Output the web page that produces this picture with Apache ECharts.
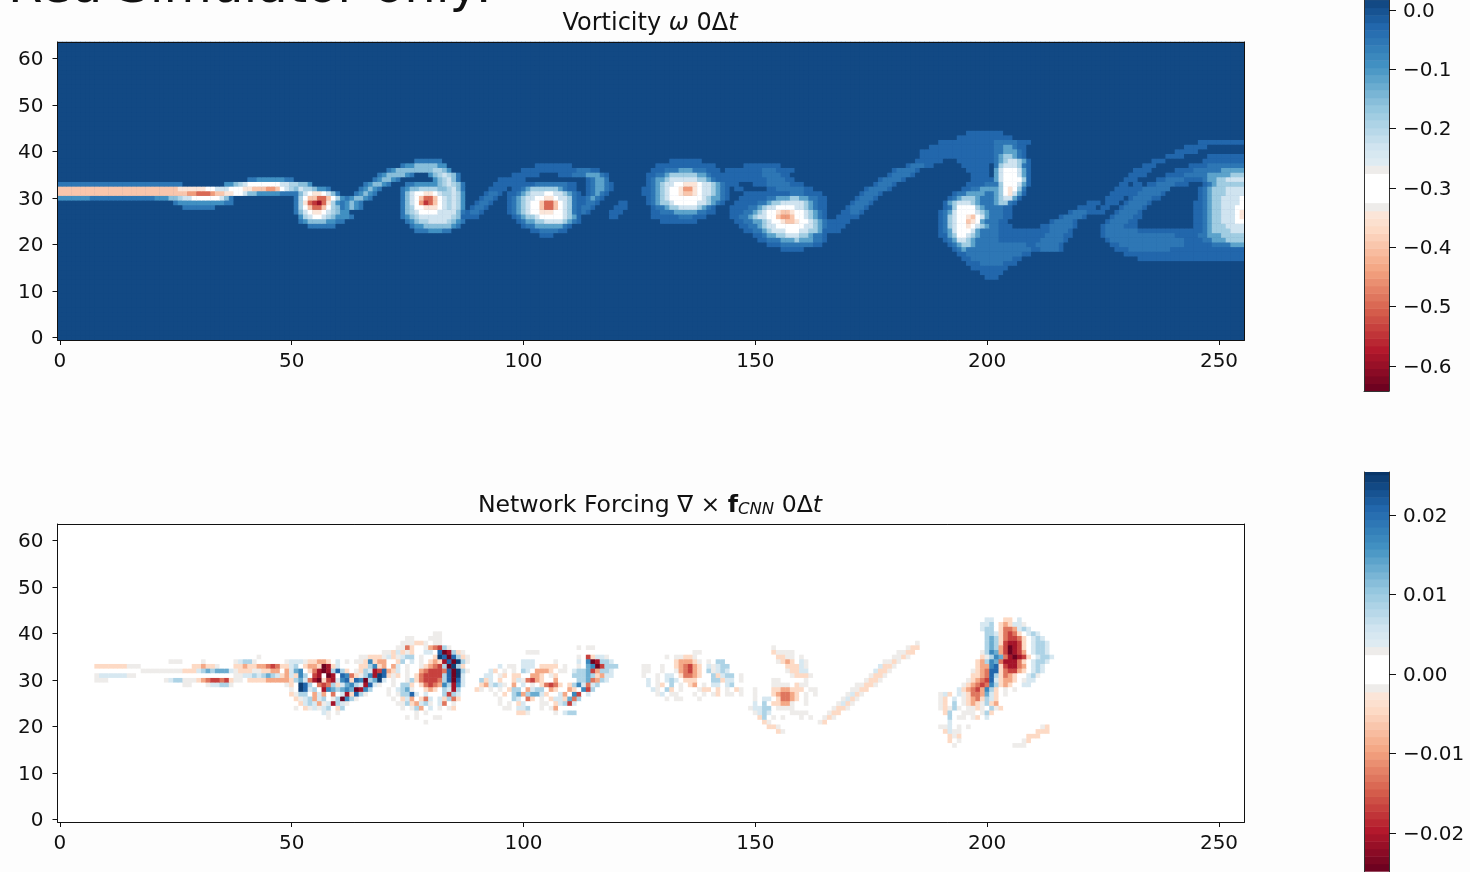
<!DOCTYPE html>
<html><head><meta charset="utf-8">
<style>html,body{margin:0;padding:0;background:#fdfdfd;overflow:hidden}#c{width:1470px;height:872px;filter:blur(0.5px)}</style>
<script src="https://cdn.jsdelivr.net/npm/echarts@6/dist/echarts.min.js"></script>
</head><body><div id="c"></div>
<script>
const columns = Array.from({length:256},(_,i)=>String(i));
const rowsIdx = Array.from({length:64},(_,i)=>String(i));
const omegaTicks = [0,-0.1,-0.2,-0.3,-0.4,-0.5,-0.6];
const forcingTicks = [0.02,0.01,0,-0.01,-0.02];
const omegaBackground = 0.006;
const omegaLevels = {'1':-0.05,'2':-0.095,'3':-0.15,'4':-0.19,'5':-0.235,'6':-0.3,'7':-0.35,'8':-0.4,'9':-0.45,'a':-0.5,'b':-0.55,'c':-0.6};
const omegaFaintLevels = {'1':-0.028,'2':-0.055,'3':-0.11,'4':-0.18,'5':-0.235,'6':-0.3,'7':-0.35,'8':-0.4,'9':-0.45,'a':-0.5,'b':-0.55,'c':-0.6};
const forcingLevels = {g:-0.0018,p:0.005,q:0.009,r:0.013,s:0.017,t:0.021,u:0.025,h:-0.005,i:-0.009,j:-0.013,k:-0.017,l:-0.021,m:-0.025};

// each row: [y, first x, cell levels]; '.' leaves the cell as it is
const omegaJet = [
[34,41,"1122222211"],
[33,0,"111111111111111111111111111"],[33,36,"2234566666665544332"],
[32,0,"88888888888888888888888888"],[32,26,"777777665556"],[32,38,"66778889986543"],
[31,0,"888888888888888888888888888"],[31,27,"899aaa9"],[31,34,"8877665"],[31,41,"33222221111"],
[30,0,"2222222"],[30,7,"11111111111111"],[30,21,"2223"],[30,25,"34"],[30,27,"556666665"],[30,36,"31"],
[29,25,"1222222222211"],[28,27,"1111111"]];
const omegaVortexA = [
[32,52,"5443221"],[31,51,"1356776531"],[30,51,"14688aa86421"],[29,51,"147abca7421"],[28,51,"1468aa864322"],
[27,51,"135677654322"],[26,52,"245665432221"],[25,52,"1233332211"],[24,54,"111111"]];
const omegaFilamentA = [
[28,61,"12321"],[29,61,"12321"],[30,62,"123321"],[31,64,"12321"],[32,65,"12321"],[33,66,"123321"],[34,68,"123321"],
[35,69,"12333321"],[36,71,"12333333334432"],[37,74,"1223333322"],[38,77,"111111"],[35,80,"2345431"],[34,81,"234531"]];
const omegaVortexB = [
[33,75,"1122222345431"],[32,74,"12334444334531"],[31,74,"13566776544542"],[30,74,"13568aa8654542"],
[29,74,"13569ba8654542"],[28,74,"13466777654542"],[27,74,"13456666555531"],[26,74,"12345555555431"],
[25,75,"1234455554321"],[24,76,"12233333321"],[23,77,"11122211"]];
const omegaArcC = [
[26,87,"1111"],[27,88,"1221"],[28,89,"1221"],[29,90,"1221"],[30,91,"1221"],[31,92,"1221"],[32,93,"1111"],[33,94,"11111"],
[34,95,"111111"],[35,98,"111111"],[35,108,"11122233321"],[36,100,"11111111111122211"],[37,103,"11111111"],
[34,114,"12332"],[33,114,"123321"],[32,114,"123321"],[31,114,"12321"],[30,113,"12321"],[29,113,"1221"],[28,112,"1221"],[27,111,"1221"],[26,110,"111"],
[29,121,"11"],[28,120,"111"],[27,119,"111"],[26,119,"11"]];
const omegaVortexC = [
[33,99,"1111222222211"],[32,98,"11234444443211"],[31,97,"1123455566554321"],[30,97,"1234556677655421"],
[29,97,"12345668aa865421"],[28,97,"12345668aa865421"],[27,97,"1234566777665421"],[26,98,"123445666665431"],
[25,99,"12334455554321"],[24,100,"12233333321"],[23,102,"11222211"],[22,104,"111"]];
const omegaVortexD = [
[38,132,"1111111"],[37,129,"1111111111111"],[36,128,"111222333222111"],[35,127,"11223444444332111"],
[34,127,"12334555555443211"],[33,127,"123455667776554321"],[32,126,"1123456679976554321"],[31,126,"1123456678876554321"],
[30,127,"123456666666543321"],[29,127,"12344566666554321"],[28,128,"12234455554321"],[27,128,"11222333332211"],
[26,128,"111111222111"],[25,130,"11111111"]];
const omegaBridge = [
[37,148,"11111111"],[36,144,"111111112221111"],[35,143,"111111111222211"],[34,143,"111111"],[34,149,"1111222211"],
[33,145,"11"],[33,150,"11122222111"],[32,146,"11"],[32,153,"1122222211"],[31,148,"111"],[31,150,"111111112221111"]];
const omegaVortexE = [
[30,147,"1111112233344332211"],[29,146,"11111223445555543211"],[28,145,"111122345566665543211"],[27,145,"111223456678876654321"],
[26,145,"112234556689986654321"],[25,146,"112233456678876654321"],[24,147,"11223455666666554321"],[23,148,"1122345556665544321"],
[22,150,"1123344555443221"],[21,151,"112223334333221"],[20,153,"111222222211"],[19,156,"11111"]];
const omegaRise = [
[23,165,"1111"],[24,166,"1111"],[25,167,"1111"],[26,168,"11111"],[27,169,"11221"],[28,170,"12221"],[29,171,"12221"],[30,172,"12221"],
[31,173,"12221"],[32,174,"122221"],[33,176,"12221"],[34,177,"122221"],[35,179,"122221"],[36,180,"122221"],[37,183,"122211"],[38,185,"111111"],[39,186,"1111111"],[40,186,"1111"]];
const omegaPair = [
[44,196,"11111111"],[43,194,"111111111111"],[42,190,"11111111111122222111"],[41,188,"111111111111112233211"],
[40,186,"11111111111111112233321"],[39,189,"11111111111112344321"],
[38,194,"11111111"],[38,202,"23455431"],[37,195,"111111"],[37,202,"24555421"],[36,196,"11111"],[36,202,"35666531"],
[35,197,"1111"],[35,202,"35666531"],[34,197,"11111"],[34,202,"35666641"],[33,196,"111122"],[33,202,"24666531"],
[32,195,"1122333"],[32,202,"3467642"],[31,193,"122333322"],[31,202,"3467531"],[30,192,"1234443222"],[30,202,"345531"],
[29,191,"13455543222"],[29,202,"34421"],[28,191,"124666643222211"],[27,190,"1235666654322211"],[26,190,"1245667865322211"],
[25,190,"124566876322211"],[24,190,"1245667654322111"],[23,190,"1235666532222111"],[22,190,"11346654322221111"],
[21,191,"12355432222211111"],[20,192,"123443222222222221"],[19,193,"123222222222222221"],[18,194,"1122222222222211"],
[17,195,"1122222222211"],[16,196,"11122222111"],[15,197,"11111111"],[14,199,"11111"],[13,200,"111"]];
const omegaTail = [
[19,211,"122221"],[20,210,"1222221"],[21,208,"1111222221"],[22,207,"111111222211"],[23,206,"1111"],[23,210,"111122221"],[24,212,"11222221"],
[25,214,"122221"],[26,216,"122221"],[27,218,"122211"],[28,220,"1111"],[29,222,"111"],
[27,224,"11"],[28,225,"11"],[29,226,"111"],[30,227,"111"],[31,229,"111"],[32,230,"111"],[33,232,"11"]];
const omegaRight = [
[42,246,"1111111111"],[41,243,"11111"],[40,241,"11111"],[39,239,"1111"],[39,248,"11111111"],
[38,236,"111"],[38,247,"111111111"],[37,234,"111"],[37,244,"111122222222"],[36,232,"1111"],[36,241,"111122222233333"],
[35,231,"1111"],[35,239,"11112222233333444"],[34,230,"111"],[34,237,"1122221111233445555"],
[33,229,"11"],[33,235,"112222111"],[33,247,"123444444"],[32,228,"11"],[32,233,"1222222"],[32,246,"1234445555"],
[31,227,"111"],[31,232,"1222221"],[31,246,"1234445555"],[30,226,"11"],[30,231,"1222211"],[30,246,"1234455556"],
[29,230,"122221"],[29,245,"11234455556"],[28,229,"122221"],[28,245,"11234455566"],[27,228,"122221"],[27,245,"11234455567"],
[26,227,"1222211"],[26,245,"11234455567"],[25,226,"1222211"],[25,245,"11234455566"],[24,225,"12222111"],[24,245,"11234445555"],
[23,225,"122222221111111111111"],[23,246,"1234444555"],[22,225,"1222222222222222111"],[22,244,"112233344444"],
[21,226,"12222222222222222111"],[21,246,"1223334444"],[20,227,"1122222222222222111"],[20,246,"1112222333"],
[19,228,"11122222222211111"],[19,245,"11111111111"],[18,230,"11111111111111111111111111"],[17,233,"11111111111111111111111"]];

const forcingJet = [
[35,43,"g"],[34,24,"ggg"],[34,31,"g"],[34,38,"gpqqg"],
[33,8,"hhhhhhhggg"],[33,29,"hhihhg"],[33,38,"hhihhiijkj"],[33,48,"hh"],
[32,18,"ggggggggghhh"],[32,30,"pqrqrrrp"],[32,38,"ghhhgghhii"],
[31,8,"gppppppgg"],[31,38,"ggppqpqrqph"],
[30,8,"ggg"],[30,23,"gpqqggg"],[30,30,"hijkkjkh"],[30,38,"gg"],[30,41,"hhhhiiiih"],
[29,27,"gg"],[29,32,"gppqqg"]];
const forcingCoil = [
[36,70,"ggh"],[35,65,"gghhhgph"],[34,49,"gpppghhiih.p.g"],[34,64,"gghshii"],
[33,50,"pq.hiihmlhp"],[33,65,"hhqshi"],[32,49,"iprs.hjlmlqtqh.g"],[32,65,"hqplkti"],
[31,49,"iphsq.kl.ml.tsjhg"],[31,66,"qsluth"],[30,49,"ihqrpjlmhklpsthts"],[30,66,"mqrup"],
[29,49,"gh.utq.jkjqhprsqpltpg"],[28,50,"g.utpq.lsrqrsrmlsq."],[27,50,"hgqq.ipi.j.plhtqg"],[26,51,"hgpqipq.gqmsqg"],
[25,52,"hpqpigplqpg"],[24,51,"g.hgpgpq.hq"],[23,57,"pg.g"],[22,58,"g"]];
const forcingWake = [
[40,81,"gg"],[39,75,"gg"],[39,80,"ggg"],[38,74,"ggghhg.gg"],[37,73,"ggjh..gijkqg"],[36,73,"phgh..pp.tmlqhg"],
[35,73,"gpqq.g..hutmtqhg"],[34,73,"hq.p.g.hihltmuqg"],[33,72,"ip.g..ghijkqmuqh"],[32,72,"hp.g..ijkkkjtmuqg"],
[31,72,"gh.g.hjkkkkqtmup"],[30,72,"g..gqhjkkkjqtmtp"],[29,72,"g.qqh.hjkjisqlsp"],[28,71,"g.pqrg..hih.qplq"],
[27,71,"g.gqqtp.p...qkqp"],[26,72,"g.hpi.hjp.phqjh"],[25,73,"ggqhipqg.pj.g"],[24,74,"g.gqi.p.g.gh"],[23,77,"g.g"],[22,75,"g.g...gg"],[21,79,"g"]];
const forcingVortexC = [
[37,112,"g.gg"],[36,101,"ggg"],[35,112,"g.khppg"],[34,100,"ppp"],[34,107,"g"],[34,112,"p.smlqqp"],
[33,95,"p.gg.ppp.hhhh.g"],[33,112,"g.rsmkqqq"],[32,93,"ph.g.g.qp.iiih.gg"],[32,111,"pqqrkiqqp"],
[31,92,"pp.gh.hh..iih.gh"],[31,111,"qqqrqhipp"],[30,91,"qhp.h..hpgjkih..i"],[30,112,"qqrjiqp"],
[29,91,"hipqpg.i.p.g.hjkjh"],[29,110,"hqspjpq"],[28,90,"hg.g.g.hqq.ipqq.ih"],[28,110,"ih.skq"],
[27,94,"g.h.qriqrrph"],[27,108,"pi.sk.p"],[26,95,"g.."],[26,98,"qp.jh.g.hpphrjq"],[25,95,"g.g.hp...gg.hpqkp"],
[24,96,"gg.ppq..g.gi"],[23,99,"hhg"],[23,107,"g.pqq"]];
const forcingVortexD = [
[36,137,"gg"],[35,131,"g.gghhg"],[34,133,"hiiihg.g.qq"],[33,126,"gg..g..hijkih.pgpqq"],[32,126,"gg..g..gijkih.qgpqp"],
[31,126,"g..g.pp.hjjih..qhpqq.g"],[30,127,"p.g.pqp.hhh...qqhpp.g"],[29,127,"p.gh.q.g.hi.g.pp.pq"],
[28,128,"pg.qh.g...ghh.h.g.hg"],[27,129,"gp.gg...g.g.gh.gg.g"],[26,131,"g.gg...g"]];
const forcingVortexE = [
[37,154,"g"],[36,154,"hgggg"],[35,155,"hhgg.g"],[34,155,"ghih.pg"],[33,157,"hhhpg"],[32,157,"ghhpp"],[31,158,"ghhhg"],[30,154,"gg"],[30,161,"g"],
[29,154,"gggg.hgg"],[28,150,"g...hhiihhh.gg"],[27,150,"g...hijjih.g.g"],[26,150,"g.pp.hjjih.g"],[25,150,"p.q.hhiig..g"],
[24,149,"gppqq.gggg"],[23,150,"gpqp....gggg"],[22,151,"hq.g.g...g.g"],[21,152,"hg"],[20,153,"hhg"],[19,155,"hg"]];
const forcingStreak = [
[21,164,"gh"],[22,165,"ghg"],[23,166,"ghh"],[24,167,"ghhg"],[25,168,"gphg"],[26,169,"gphg"],[27,170,"gphg"],[28,171,"gghh"],
[29,172,"gghhg"],[30,174,"ghhg"],[31,175,"ghhg"],[32,176,"phhg"],[33,177,"phhg"],[34,178,"gghg"],[35,180,"gghg"],[36,181,"gghh"],[37,183,"ghh"],[38,185,"g"]];
const forcingPair = [
[43,200,"pp..hh.p"],[42,199,"ppq.hihppg"],[41,199,"pqq.hjjipqp"],[40,200,"qqphjkjh.pqp"],[39,200,"qrqhjkkjh.pqp"],
[38,200,"qrqhkllkh.pqqp"],[37,200,"qrqikmlkh.pqqp"],[36,199,"gqsrikmlki.pqqp"],[35,199,"hgqsrjlmlkh.pqqp"],
[34,198,"hiqsrjllljh.pqqp"],[33,198,"hiisthkllji.pqp"],[32,197,"ghijtthjkkih.pqp"],[31,197,"hhijtqhjih..pqg"],
[30,196,"ghijktphiih.gpp"],[29,195,"ghijkjsqhih..pp"],[28,192,"..p"],[28,195,"hijkisqh.g.g"],[27,190,"gph.pghjjirph.g"],
[26,190,"gh.p.ghijhqph"],[25,190,"gh.q.ghihgqhi"],[24,190,"ghgqg.gghg.qgh"],[23,191,"hq..ggg.gqh"],[22,192,"q.gg.gh.p"],
[21,192,"p"],[20,190,"ggp.g.g"],[19,191,"hpgg"],[18,191,".hgh"],[17,192,"h.g"],[16,193,"g"],
[20,212,"gh"],[19,211,"hhh"],[18,209,"hhh"],[17,208,"gh"],[16,206,"ggg"]];

const omegaNearRows = [omegaJet,omegaVortexA,omegaFilamentA,omegaVortexB];
const omegaFarRows = [omegaArcC,omegaVortexC,omegaVortexD,omegaBridge,omegaVortexE,omegaRise,omegaPair,omegaTail,omegaRight];
const forcingRows = [forcingJet,forcingCoil,forcingWake,forcingVortexC,forcingVortexD,forcingVortexE,forcingStreak,forcingPair];

function paint(g, groups, levels){
  groups.forEach(rows=>rows.forEach(([y,x,s])=>{
    for(let i=0;i<s.length;i++){ const v=levels[s[i]]; if(v!==undefined && x+i<256) g[y][x+i]=v; }
  }));
}
function blank(bg){return Array.from({length:64},()=>new Array(256).fill(bg));}
function cells(g){const out=[]; for(let y=0;y<64;y++) for(let x=0;x<256;x++) out.push([x,y,g[y][x]]); return out;}
const omegaGrid=blank(omegaBackground); paint(omegaGrid,omegaNearRows,omegaLevels); paint(omegaGrid,omegaFarRows,omegaFaintLevels);
const forcingGrid=blank(0); paint(forcingGrid,forcingRows,forcingLevels);

const rdbu = ['#67001f','#b2182b','#d6604d','#f4a582','#fddbc7','#f7f7f7','#d1e5f0','#92c5de','#4393c3','#2166ac','#053061'];
function hex(c){return [1,3,5].map(i=>parseInt(c.substr(i,2),16));}
function colorAt(t){
  const d=Math.abs(t-0.5);
  if(d<0.036) return '#ffffff';
  if(d<0.056) return '#eeecea';
  const p=Math.min(t,0.9999)*10,i=Math.floor(p),f=p-i,a=hex(rdbu[i]),b=hex(rdbu[i+1]);
  return 'rgb('+a.map((v,k)=>Math.round(v+(b[k]-v)*f)).join(',')+')';
}
function bands(vmin,vmax){
  const edges=[0.464,0.536];
  for(let i=0;i<=24;i++){ edges.push(0.444*i/24); edges.push(0.556+0.444*i/24); }
  edges.sort((a,b)=>a-b);
  const u=[...new Set(edges)], out=[];
  for(let i=0;i<u.length-1;i++){
    const a=u[i],b=u[i+1];
    out.push({lo:vmin+a*(vmax-vmin),hi:vmin+b*(vmax-vmin),color:colorAt((a+b)/2)});
  }
  return out;
}
const omegaRange=[-0.642,0.042], forcingRange=[-0.0248,0.026];
const omegaBands=bands(omegaRange[0],omegaRange[1]), forcingBands=bands(forcingRange[0],forcingRange[1]);
const omegaShown=[-0.642,0.0169], forcingShown=[-0.0249,0.0254];
const omegaFloor=omegaBands.find(b=>omegaBackground>=b.lo&&omegaBackground<b.hi).color;

const FONT='DejaVu Sans', INK='#111';
const labelRich={v:{fontFamily:FONT,fontSize:20,color:INK,padding:[3,0,0,0]}};
function pieces(bs){return bs.map((b,i)=>({gte:b.lo-(i==0?1:0),lt:b.hi+(i==bs.length-1?1:0),color:b.color}));}
function mainX(grid){return {type:'category',gridIndex:grid,data:columns,position:'bottom',z:5,
  axisLine:{show:true,onZero:false,lineStyle:{color:INK,width:1}},axisTick:{show:true,alignWithLabel:true,interval:49,length:5,lineStyle:{color:INK}},
  axisLabel:{interval:49,color:INK,fontFamily:FONT,fontSize:20,margin:12},splitLine:{show:false}};}
function mainY(grid){return {type:'category',gridIndex:grid,data:rowsIdx,position:'left',z:5,
  axisLine:{show:true,onZero:false,lineStyle:{color:INK,width:1}},axisTick:{show:true,alignWithLabel:true,interval:9,length:5,lineStyle:{color:INK}},
  axisLabel:{interval:9,margin:14,formatter:v=>'{v|'+v+'}',rich:labelRich},splitLine:{show:false}};}
function edgeX(grid){return {type:'category',gridIndex:grid,data:columns,position:'top',z:5,axisLine:{show:true,onZero:false,lineStyle:{color:INK,width:1}},axisTick:{show:false},axisLabel:{show:false}};}
function edgeY(grid){return {type:'category',gridIndex:grid,data:rowsIdx,position:'right',z:5,axisLine:{show:true,onZero:false,lineStyle:{color:INK,width:1}},axisTick:{show:false},axisLabel:{show:false}};}
function barX(grid){return {type:'value',gridIndex:grid,min:0,max:1,position:'bottom',z:5,axisLine:{show:true,onZero:false,lineStyle:{color:'#333'}},axisTick:{show:false},axisLabel:{show:false},splitLine:{show:false}};}
function barY(grid,range,ticks,digits){return {type:'value',gridIndex:grid,min:range[0],max:range[1],position:'right',z:5,
  axisLine:{show:true,onZero:false,lineStyle:{color:'#333'}},axisTick:{show:true,length:7,lineStyle:{color:INK},customValues:ticks},
  axisLabel:{margin:14,customValues:ticks,rich:labelRich,formatter:v=>{const s=Math.abs(v).toFixed(digits);return '{v|'+(v<-1e-9?'\u2212':'')+s+'}';}},splitLine:{show:false}};}
function barLeft(grid,range){return {type:'value',gridIndex:grid,min:range[0],max:range[1],position:'left',z:5,axisLine:{show:true,onZero:false,lineStyle:{color:'#333'}},axisTick:{show:false},axisLabel:{show:false},splitLine:{show:false}};}
function barSeries(xi,yi,bs){return {type:'custom',xAxisIndex:xi,yAxisIndex:yi,silent:true,z:1,
  data:bs.map(b=>[b.lo,b.hi]),encode:{y:[0,1]},clip:true,
  renderItem:(p,api)=>{const a=api.coord([0,api.value(1)]),b=api.coord([1,api.value(0)]);
    return {type:'rect',shape:{x:a[0],y:a[1],width:b[0]-a[0],height:b[1]-a[1]+0.5},style:{fill:bs[p.dataIndex].color}};}};}

const chart=echarts.init(document.getElementById('c'),null,{renderer:'canvas'});
const tA={fontFamily:FONT,fontWeight:'normal',fontSize:23.6,color:INK}, tI={fontFamily:FONT,fontWeight:'normal',fontStyle:'italic',fontSize:23.6,color:INK};
const vA={fontFamily:FONT,fontWeight:'normal',fontSize:24,color:INK}, vI={fontFamily:FONT,fontWeight:'normal',fontStyle:'italic',fontSize:24,color:INK};
chart.setOption({
  animation:false,backgroundColor:'#fdfdfd',
  title:[
   {text:'{a|Vorticity }{i|\u03c9}{a| 0\u0394}{i|t}',left:645,top:7,textAlign:'center',textStyle:{fontWeight:'normal',rich:{a:vA,i:vI}}},
   {text:'{a|Network Forcing \u2207 \u00d7 }{b|f}{s|CNN}{a| 0\u0394}{i|t}',left:645,top:489,textAlign:'center',textStyle:{fontWeight:'normal',rich:{
     a:tA,b:{fontFamily:FONT,fontWeight:'bold',fontSize:23.6,color:INK},
     s:{fontFamily:FONT,fontWeight:'normal',fontStyle:'italic',fontSize:16.5,color:INK,verticalAlign:'bottom',padding:[6,0,0,0]},i:tI}}}
  ],
  graphic:[{type:'text',left:8,top:-36,style:{text:'Red Simulator only:',fontFamily:FONT,fontSize:49.7,fill:'#111'}}],
  grid:[
   {left:57.5,top:42,width:1187,height:298,show:true,borderWidth:0,backgroundColor:omegaFloor},
   {left:57.5,top:524,width:1187,height:298},
   {left:1364,top:0,width:25,height:391},
   {left:1364,top:472,width:25,height:400}],
  xAxis:[mainX(0),edgeX(0),mainX(1),edgeX(1),barX(2),barX(3)],
  yAxis:[mainY(0),edgeY(0),mainY(1),edgeY(1),barY(2,omegaShown,omegaTicks,1),barLeft(2,omegaShown),barY(3,forcingShown,forcingTicks,2),barLeft(3,forcingShown)],
  visualMap:[
   {type:'piecewise',show:false,seriesIndex:0,dimension:2,pieces:pieces(omegaBands)},
   {type:'piecewise',show:false,seriesIndex:1,dimension:2,pieces:pieces(forcingBands)}],
  series:[
   {type:'heatmap',xAxisIndex:0,yAxisIndex:0,data:cells(omegaGrid),progressive:0,silent:true,z:1},
   {type:'heatmap',xAxisIndex:2,yAxisIndex:2,data:cells(forcingGrid),progressive:0,silent:true,z:1},
   barSeries(4,4,omegaBands),
   barSeries(5,6,forcingBands)]
});
</script></body></html>
